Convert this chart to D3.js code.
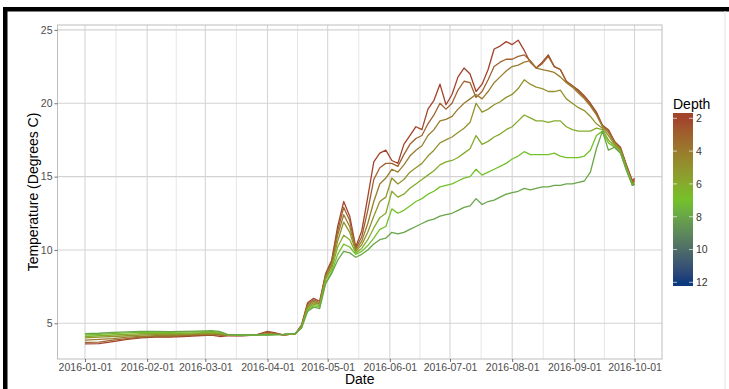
<!DOCTYPE html>
<html>
<head>
<meta charset="utf-8">
<script src="https://cdn.jsdelivr.net/npm/d3@7"></script>
<style>
  body { margin: 0; background: #fff; }
  svg { display: block; }
  text { font-family: "Liberation Sans", Arial, sans-serif; }
</style>
</head>
<body>
<svg id="chart" width="729" height="389"></svg>
<script>
// Sampling dates shared by every depth series
const dates = [
  "2016-01-01","2016-01-08","2016-01-15","2016-01-22","2016-01-29","2016-02-05","2016-02-12","2016-02-19","2016-02-26",
  "2016-03-04","2016-03-08","2016-03-12","2016-03-19","2016-03-26","2016-04-01","2016-04-05","2016-04-09","2016-04-12",
  "2016-04-15","2016-04-18","2016-04-21","2016-04-24","2016-04-27","2016-04-30","2016-05-03","2016-05-06","2016-05-09",
  "2016-05-12","2016-05-15","2016-05-18","2016-05-21","2016-05-24","2016-05-27","2016-05-30",
  "2016-06-02","2016-06-05","2016-06-08","2016-06-11","2016-06-14","2016-06-17","2016-06-20","2016-06-23","2016-06-26","2016-06-29",
  "2016-07-02","2016-07-05","2016-07-08","2016-07-11","2016-07-14","2016-07-17","2016-07-20","2016-07-23","2016-07-26","2016-07-29",
  "2016-08-01","2016-08-04","2016-08-07","2016-08-10","2016-08-13","2016-08-16","2016-08-19","2016-08-22","2016-08-25","2016-08-28","2016-08-31",
  "2016-09-03","2016-09-06","2016-09-09","2016-09-12","2016-09-15","2016-09-18","2016-09-21","2016-09-24","2016-09-27","2016-09-30",
  "2016-10-01"
];

const depths = [2, 3, 4, 5, 6, 7, 8];

// Water temperature (degrees C) at each depth
const temp2 = [3.6,3.62,3.75,3.9,4.0,4.05,4.05,4.1,4.15,4.2,4.1,4.15,4.15,4.2,4.45,4.35,4.2,4.25,
  4.3,4.9,6.4,6.7,6.5,8.4,9.3,11.6,13.3,12.3,10.2,11.3,13.6,16.0,16.6,16.8,
  16.1,15.9,17.2,17.8,18.4,18.2,19.6,20.2,21.3,19.9,
  20.6,21.8,22.4,22.0,20.8,21.3,22.3,23.7,23.9,24.2,
  24.0,24.3,23.6,22.8,22.4,22.8,23.3,22.5,22.3,21.5,21.2,
  20.9,20.5,20.0,19.4,18.5,18.2,17.4,17.0,15.8,14.7,
  14.9];
const temp3 = [3.7,3.72,3.85,3.95,4.05,4.1,4.1,4.15,4.2,4.22,4.2,4.17,4.16,4.2,4.4,4.3,4.2,4.25,
  4.3,4.85,6.3,6.6,6.4,8.3,9.2,11.3,12.9,12.0,10.1,10.9,12.7,14.8,15.6,15.9,
  15.9,15.7,16.5,17.2,17.6,17.8,18.6,19.2,20.0,19.6,
  20.0,20.9,21.5,21.4,20.4,20.8,21.6,22.5,22.8,23.0,
  23.0,23.2,23.3,22.9,22.4,22.7,23.2,22.5,22.3,21.5,21.2,
  20.8,20.4,19.9,19.3,18.5,18.1,17.4,16.9,15.7,14.6,
  14.8];
const temp4 = [3.85,3.9,3.95,4.05,4.1,4.15,4.15,4.2,4.25,4.27,4.25,4.18,4.17,4.2,4.3,4.27,4.22,4.25,
  4.3,4.8,6.2,6.5,6.3,8.2,9.0,11.0,12.4,11.6,10.0,10.6,11.8,13.3,14.5,14.9,
  15.5,15.3,15.8,16.4,16.8,17.1,17.8,18.2,18.8,18.9,
  19.1,19.6,20.0,20.3,20.6,20.3,20.8,21.4,21.8,22.2,
  22.5,22.6,22.8,22.9,22.4,22.3,22.2,22.1,21.8,21.4,21.1,
  20.7,20.3,19.8,19.2,18.4,18.0,17.3,16.9,15.7,14.5,
  14.7];
const temp5 = [4.0,4.05,4.1,4.15,4.2,4.22,4.22,4.25,4.3,4.32,4.3,4.2,4.18,4.2,4.25,4.25,4.22,4.27,
  4.3,4.8,6.1,6.4,6.3,8.1,8.9,10.6,11.9,11.2,9.9,10.35,11.2,12.3,13.3,13.6,
  14.9,14.5,14.8,15.3,15.6,15.9,16.4,16.8,17.3,17.5,
  17.7,18.0,18.3,18.7,20.0,19.4,19.6,19.9,20.1,20.4,
  20.6,21.0,21.6,21.3,21.1,21.0,20.8,20.8,20.9,20.3,20.0,
  19.7,19.5,19.1,18.6,18.3,17.8,17.2,16.8,15.6,14.5,
  14.6];
const temp6 = [4.1,4.15,4.2,4.25,4.3,4.3,4.3,4.32,4.35,4.38,4.35,4.22,4.19,4.21,4.22,4.22,4.23,4.28,
  4.3,4.75,6.0,6.3,6.2,8.0,8.7,10.2,11.0,10.7,9.8,10.1,10.7,11.5,12.2,12.5,
  14.0,13.6,13.8,14.2,14.5,14.8,15.1,15.4,15.8,16.0,
  16.1,16.3,16.6,16.9,17.8,17.2,17.4,17.7,17.9,18.2,
  18.4,18.8,19.2,19.0,18.8,18.8,18.7,18.8,18.8,18.4,18.2,
  18.1,18.1,18.1,18.3,18.2,17.5,17.1,16.7,15.5,14.4,
  14.5];
const temp7 = [4.2,4.25,4.3,4.35,4.38,4.38,4.38,4.4,4.42,4.45,4.4,4.23,4.2,4.22,4.2,4.22,4.24,4.3,
  4.3,4.7,5.9,6.2,6.1,7.8,8.5,9.7,10.4,10.2,9.7,9.9,10.3,10.8,11.4,11.6,
  12.8,12.5,12.7,13.0,13.3,13.5,13.8,14.0,14.3,14.4,
  14.5,14.7,14.9,15.0,15.5,15.1,15.3,15.5,15.7,15.9,
  16.2,16.4,16.7,16.5,16.5,16.5,16.5,16.6,16.4,16.3,16.3,
  16.3,16.4,16.8,17.8,18.1,17.3,17.0,16.6,15.5,14.4,
  14.5];
const temp8 = [4.3,4.32,4.38,4.42,4.45,4.45,4.43,4.45,4.47,4.5,4.45,4.25,4.21,4.22,4.2,4.22,4.25,4.3,
  4.3,4.7,5.8,6.1,6.0,7.7,8.4,9.3,9.9,9.8,9.5,9.7,10.0,10.4,10.7,10.8,
  11.2,11.1,11.2,11.4,11.6,11.8,12.0,12.1,12.3,12.4,
  12.5,12.7,12.9,13.0,13.5,13.1,13.3,13.4,13.6,13.8,
  13.9,14.0,14.2,14.1,14.2,14.3,14.3,14.4,14.4,14.5,14.5,
  14.6,14.7,15.3,16.9,18.1,16.8,17.0,16.6,15.4,14.4,
  14.5];

const temps = [temp2, temp3, temp4, temp5, temp6, temp7, temp8];

// Axis breaks and legend breaks
const yTicks = [5, 10, 15, 20, 25];
const xTickDates = ["2016-01-01","2016-02-01","2016-03-01","2016-04-01","2016-05-01",
                    "2016-06-01","2016-07-01","2016-08-01","2016-09-01","2016-10-01"];
const depthLimits = [2, 12];
const legendBreaks = [2, 4, 6, 8, 10, 12];
const colourDepths = [2, 7, 12];
const colourValues = ["#a2432c", "#73c22a", "#0b3a7e"];

const parse = d3.timeParse("%Y-%m-%d");
const fmt = d3.timeFormat("%Y-%m-%d");

const svg = d3.select("#chart");
const panel = { left: 57.5, right: 662, top: 25, bottom: 359 };

// Outer frame
svg.append("rect").attr("x", 3).attr("y", 7).attr("width", 726).attr("height", 4.5).attr("fill", "#000");
svg.append("rect").attr("x", 3).attr("y", 7).attr("width", 4.5).attr("height", 382).attr("fill", "#000");
svg.append("line").attr("x1", 725).attr("x2", 725).attr("y1", 11).attr("y2", 389)
  .attr("stroke", "#e2e2e2").attr("stroke-width", 1);

// Scales with 5% padding around the data range
const dateVals = dates.map(parse);
const [d0, d1] = d3.extent(dateVals);
const span = d1 - d0;
const x = d3.scaleTime()
  .domain([new Date(+d0 - 0.05 * span), new Date(+d1 + 0.05 * span)])
  .range([panel.left, panel.right]);

const allT = temps.flat();
const [t0, t1] = d3.extent(allT);
const tp = (t1 - t0) * 0.05;
const y = d3.scaleLinear().domain([t0 - tp, t1 + tp]).range([panel.bottom, panel.top]);

const colour = d3.scaleLinear().domain(colourDepths).range(colourValues)
  .interpolate(d3.interpolateLab).clamp(true);

// Panel background and grid
const g = svg.append("g");
g.append("rect").attr("x", panel.left).attr("y", panel.top)
  .attr("width", panel.right - panel.left).attr("height", panel.bottom - panel.top)
  .attr("fill", "#fff");

const majors = xTickDates.map(parse);
const minors = d3.pairs(majors).map(([a, b]) => new Date((+a + +b) / 2));

g.selectAll("line.minor").data(minors).join("line")
  .attr("x1", d => x(d)).attr("x2", d => x(d))
  .attr("y1", panel.top).attr("y2", panel.bottom)
  .attr("stroke", "#e6e6e6").attr("stroke-width", 1);

g.selectAll("line.vmajor").data(majors).join("line")
  .attr("x1", d => x(d)).attr("x2", d => x(d))
  .attr("y1", panel.top).attr("y2", panel.bottom)
  .attr("stroke", "#d6d6d6").attr("stroke-width", 1.1);

g.selectAll("line.hmajor").data(yTicks).join("line")
  .attr("x1", panel.left).attr("x2", panel.right)
  .attr("y1", d => y(d)).attr("y2", d => y(d))
  .attr("stroke", "#d3d3d3").attr("stroke-width", 1.1);

// Temperature lines, one per depth
const line = d3.line().x(d => x(d.date)).y(d => y(d.t));
const series = depths.map((dep, i) => ({
  depth: dep,
  values: dateVals.map((dt, j) => ({ date: dt, t: temps[i][j] }))
}));
svg.append("g").selectAll("path").data(series).join("path")
  .attr("d", d => line(d.values))
  .attr("fill", "none")
  .attr("stroke", d => colour(d.depth))
  .attr("stroke-width", 1.3)
  .attr("stroke-linejoin", "round");

// Panel border
svg.append("rect").attr("x", panel.left).attr("y", panel.top)
  .attr("width", panel.right - panel.left).attr("height", panel.bottom - panel.top)
  .attr("fill", "none").attr("stroke", "#bdbdbd").attr("stroke-width", 1);

// Axes
const xAxis = d3.axisBottom(x).tickValues(majors).tickFormat(fmt).tickSize(3).tickPadding(2);
const ax = svg.append("g").attr("transform", `translate(0,${panel.bottom})`).call(xAxis);
const yAxis = d3.axisLeft(y).tickValues(yTicks).tickSize(3).tickPadding(2);
const ay = svg.append("g").attr("transform", `translate(${panel.left},0)`).call(yAxis);
[ax, ay].forEach(a => {
  a.select(".domain").remove();
  a.selectAll(".tick line").attr("stroke", "#4d4d4d").attr("stroke-width", 0.8);
  a.selectAll(".tick text").attr("fill", "#4d4d4d").attr("font-size", 10.5)
    .attr("font-family", "Liberation Sans, Arial, sans-serif");
});

// Axis titles
svg.append("text").attr("x", (panel.left + panel.right) / 2).attr("y", 384)
  .attr("text-anchor", "middle").attr("font-size", 14).attr("fill", "#000").text("Date");
svg.append("text").attr("transform", `translate(38,${(panel.top + panel.bottom) / 2}) rotate(-90)`)
  .attr("text-anchor", "middle").attr("font-size", 14).attr("fill", "#000")
  .text("Temperature (Degrees C)");

// Colour bar legend
const bar = { x: 673, w: 20, top: 113, bottom: 286 };
const ly = d3.scaleLinear().domain(depthLimits).range([118.3, 282.3]);
const defs = svg.append("defs");
const grad = defs.append("linearGradient").attr("id", "depthGrad")
  .attr("x1", 0).attr("y1", 0).attr("x2", 0).attr("y2", 1);
d3.range(0, 1.0001, 0.02).forEach(f => {
  const v = ly.invert(bar.top + f * (bar.bottom - bar.top));
  grad.append("stop").attr("offset", f).attr("stop-color", colour(v));
});
svg.append("rect").attr("x", bar.x).attr("y", bar.top)
  .attr("width", bar.w).attr("height", bar.bottom - bar.top)
  .attr("fill", "url(#depthGrad)");
const lg = svg.append("g");
lg.selectAll("line.l").data(legendBreaks).join("line")
  .attr("x1", bar.x).attr("x2", bar.x + 4)
  .attr("y1", d => ly(d)).attr("y2", d => ly(d))
  .attr("stroke", "#fff").attr("stroke-opacity", 0.8).attr("stroke-width", 0.8);
lg.selectAll("line.r").data(legendBreaks).join("line")
  .attr("x1", bar.x + bar.w - 4).attr("x2", bar.x + bar.w)
  .attr("y1", d => ly(d)).attr("y2", d => ly(d))
  .attr("stroke", "#fff").attr("stroke-opacity", 0.8).attr("stroke-width", 0.8);
lg.selectAll("text").data(legendBreaks).join("text")
  .attr("x", bar.x + bar.w + 3).attr("y", d => ly(d) + 3.8)
  .attr("font-size", 10.5).attr("fill", "#333").text(d => d);
svg.append("text").attr("x", bar.x).attr("y", 109)
  .attr("font-size", 14).attr("fill", "#000").text("Depth");
</script>
</body>
</html>
